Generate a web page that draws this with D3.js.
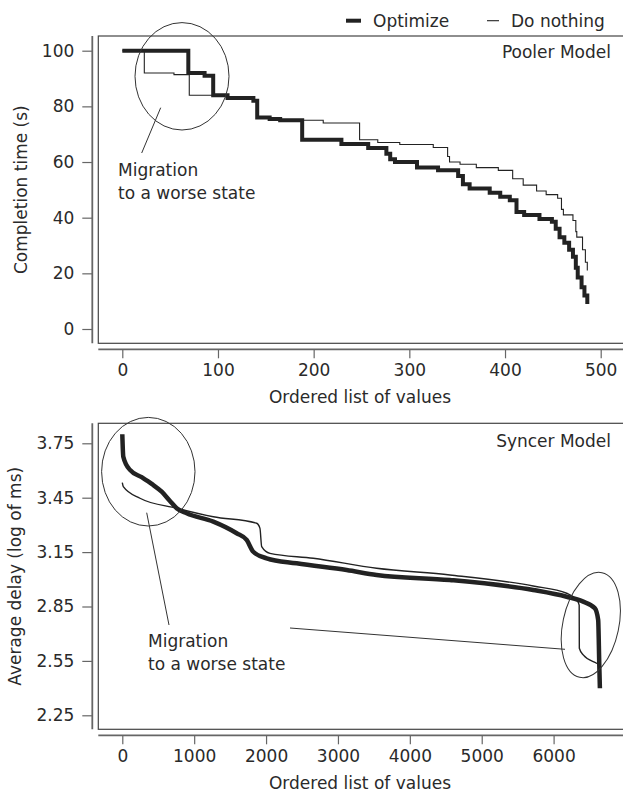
<!DOCTYPE html>
<html>
<head>
<meta charset="utf-8">
<script src="https://cdn.jsdelivr.net/npm/d3@7"></script>
<style>
  body { margin: 0; background: #fff; }
  svg text { font-family: "DejaVu Sans", sans-serif; fill: #2a2a2a; }
</style>
</head>
<body>
<svg id="chart" width="623" height="794"></svg>
<script>
// Pooler model: step series, [start index, value]
var poolerOptIdx = [0, 69, 86, 95, 110, 137, 141, 154, 165, 188, 229, 257, 276, 280, 285, 308, 330, 351, 356, 363, 384, 395, 405, 412, 420, 436, 449, 453, 457, 462, 467, 471, 474, 476, 480, 483, 486];
var poolerOptVal = [100, 92, 91, 84, 83, 82, 76, 75.5, 75, 68, 66.5, 65, 63, 61, 60, 58, 57, 55, 52, 50.5, 49, 47.5, 46.3, 42, 41, 39.5, 38.5, 36, 33, 31, 28.5, 26, 22, 18.5, 15, 12, 9];
var poolerNoIdx = [0, 23, 54, 70, 110, 137, 141, 154, 165, 210, 248, 267, 290, 325, 340, 342, 353, 370, 393, 408, 419, 433, 443, 455, 459, 461, 471, 474, 475, 481, 484, 486];
var poolerNoVal = [100, 92, 91.4, 84, 83, 82, 76, 75.5, 75, 74, 68, 67, 66.3, 65.2, 62, 60, 59.2, 58, 57, 54, 51.7, 49.6, 48.3, 47, 43, 41, 39, 35, 33, 28.5, 24, 21];

// Syncer model: sampled points along the curves
var syncerOptIdx = [0, 14, 107, 270, 409, 548, 663, 756, 895, 1266, 1591, 1730, 1822, 2008, 2425, 3121, 3538, 4558, 5716, 6181, 6412, 6574, 6620, 6635, 6644];
var syncerOptVal = [3.80, 3.676, 3.603, 3.563, 3.526, 3.483, 3.432, 3.392, 3.364, 3.318, 3.254, 3.217, 3.152, 3.116, 3.088, 3.051, 3.024, 2.996, 2.941, 2.904, 2.877, 2.84, 2.776, 2.537, 2.399];
var syncerNoIdx = [0, 14, 246, 756, 1266, 1869, 1915, 1939, 2054, 2657, 3538, 4558, 5716, 6181, 6320, 6356, 6358, 6412, 6598, 6644];
var syncerNoVal = [3.533, 3.511, 3.447, 3.392, 3.345, 3.309, 3.281, 3.18, 3.143, 3.116, 3.061, 3.024, 2.963, 2.923, 2.886, 2.858, 2.62, 2.583, 2.537, 2.527];

var poolerXTicks = [0, 100, 200, 300, 400, 500];
var poolerYTicks = [0, 20, 40, 60, 80, 100];
var syncerXTicks = [0, 1000, 2000, 3000, 4000, 5000, 6000];
var syncerYTicks = [2.25, 2.55, 2.85, 3.15, 3.45, 3.75];

var svg = d3.select("#chart");
var ink = "#222", frame = "#444", axisCol = "#666";
var fs = "17px";

function pts(idx, val) {
    return idx.map(function(d, i) { return [d, val[i]]; });
}

function panel(opt) {
    var x = d3.scaleLinear().domain(opt.xDomain).range(opt.xRange);
    var y = d3.scaleLinear().domain(opt.yDomain).range(opt.yRange);
    var g = svg.append("g");

    // plot box (runs off the right edge like the original)
    g.append("rect")
        .attr("x", opt.box[0]).attr("y", opt.box[1])
        .attr("width", 640 - opt.box[0]).attr("height", opt.box[2] - opt.box[1])
        .attr("fill", "none").attr("stroke", frame).attr("stroke-width", 1.2);

    // y axis, offset left
    var ya = g.append("g").attr("transform", "translate(" + (opt.box[0] - 6) + ",0)")
        .call(d3.axisLeft(y).tickValues(opt.yTicks).tickSize(10).tickPadding(8)
            .tickFormat(opt.yFormat));
    ya.select(".domain").remove();
    ya.append("line").attr("x1", 0).attr("x2", 0)
        .attr("y1", opt.box[1]).attr("y2", opt.box[2])
        .attr("stroke", axisCol).attr("stroke-width", 1.8);
    ya.selectAll(".tick line").attr("stroke", axisCol).attr("stroke-width", 1.2);
    ya.selectAll("text").style("font-size", fs).attr("fill", "#2a2a2a");

    // x axis, offset down
    var xa = g.append("g").attr("transform", "translate(0," + (opt.box[2] + 6) + ")")
        .call(d3.axisBottom(x).tickValues(opt.xTicks).tickSize(9).tickPadding(6)
            .tickFormat(d3.format("d")));
    xa.select(".domain").remove();
    xa.append("line").attr("x1", opt.box[0]).attr("x2", 640)
        .attr("y1", 0).attr("y2", 0)
        .attr("stroke", axisCol).attr("stroke-width", 1.8);
    xa.selectAll(".tick line").attr("stroke", axisCol).attr("stroke-width", 1.2);
    xa.selectAll("text").style("font-size", fs).attr("fill", "#2a2a2a");

    var line = d3.line()
        .x(function(d) { return x(d[0]); })
        .y(function(d) { return y(d[1]); })
        .curve(opt.curve);

    g.append("path").datum(pts(opt.noIdx, opt.noVal))
        .attr("d", line).attr("fill", "none")
        .attr("stroke", ink).attr("stroke-width", opt.thin);
    g.append("path").datum(pts(opt.optIdx, opt.optVal))
        .attr("d", line).attr("fill", "none")
        .attr("stroke", ink).attr("stroke-width", opt.thick);

    g.append("text").attr("x", 611).attr("y", opt.titleY)
        .attr("text-anchor", "end").attr("dominant-baseline", "central")
        .style("font-size", fs).text(opt.title);

    g.append("text")
        .attr("transform", "translate(" + opt.yLabX + "," + ((opt.box[1] + opt.box[2]) / 2) + ") rotate(-90)")
        .attr("text-anchor", "middle").attr("dominant-baseline", "central")
        .style("font-size", fs).text(opt.yLabel);

    g.append("text").attr("x", 360).attr("y", opt.xLabY)
        .attr("text-anchor", "middle").attr("dominant-baseline", "central")
        .style("font-size", fs).text("Ordered list of values");

    return { x: x, y: y, g: g };
}

panel({
    xDomain: [0, 500], xRange: [122.3, 600.7],
    yDomain: [0, 100], yRange: [329, 50.7],
    box: [98.3, 36, 343.3],
    xTicks: poolerXTicks, yTicks: poolerYTicks, yFormat: d3.format("d"),
    optIdx: poolerOptIdx, optVal: poolerOptVal,
    noIdx: poolerNoIdx, noVal: poolerNoVal,
    curve: d3.curveStepAfter, thick: 4, thin: 1.1,
    title: "Pooler Model", titleY: 52,
    yLabel: "Completion time (s)", yLabX: 21, xLabY: 397
});

panel({
    xDomain: [0, 6000], xRange: [122.3, 553.6],
    yDomain: [2.25, 3.75], yRange: [715.3, 443.3],
    box: [98.3, 423.3, 729.3],
    xTicks: syncerXTicks, yTicks: syncerYTicks, yFormat: d3.format(".2f"),
    optIdx: syncerOptIdx, optVal: syncerOptVal,
    noIdx: syncerNoIdx, noVal: syncerNoVal,
    curve: d3.curveMonotoneX, thick: 4.5, thin: 1.4,
    title: "Syncer Model", titleY: 441,
    yLabel: "Average delay (log of ms)", yLabX: 15, xLabY: 783
});

// legend
var leg = svg.append("g");
leg.append("line").attr("x1", 346).attr("x2", 361).attr("y1", 20.7).attr("y2", 20.7)
    .attr("stroke", ink).attr("stroke-width", 4);
leg.append("text").attr("x", 373).attr("y", 20.7).attr("dominant-baseline", "central")
    .style("font-size", fs).text("Optimize");
leg.append("line").attr("x1", 487).attr("x2", 499).attr("y1", 20.7).attr("y2", 20.7)
    .attr("stroke", ink).attr("stroke-width", 1.1);
leg.append("text").attr("x", 511).attr("y", 20.7).attr("dominant-baseline", "central")
    .style("font-size", fs).text("Do nothing");

// annotations
var ann = svg.append("g").attr("fill", "none").attr("stroke", "#333").attr("stroke-width", 1);
ann.append("ellipse").attr("cx", 182).attr("cy", 76.3).attr("rx", 47).attr("ry", 53.7);
ann.append("line").attr("x1", 160.7).attr("y1", 107.7).attr("x2", 141.7).attr("y2", 153);
ann.append("ellipse").attr("cx", 148.3).attr("cy", 471.7).attr("rx", 46.7).attr("ry", 54.3);
ann.append("line").attr("x1", 146.7).attr("y1", 512.7).attr("x2", 169).attr("y2", 625);
ann.append("ellipse").attr("transform", "translate(590.8,625) rotate(12)")
    .attr("rx", 28).attr("ry", 53.5);
ann.append("line").attr("x1", 290).attr("y1", 628).attr("x2", 565).attr("y2", 649.3);

function note(x, y) {
    svg.append("text").attr("x", x).attr("y", y).attr("dominant-baseline", "central")
        .style("font-size", fs).text("Migration");
    svg.append("text").attr("x", x).attr("y", y + 23).attr("dominant-baseline", "central")
        .style("font-size", fs).text("to a worse state");
}
note(118, 170);
note(148, 641);
</script>
</body>
</html>
